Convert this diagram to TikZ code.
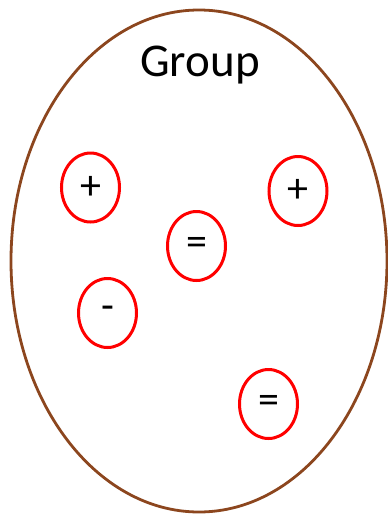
\documentclass[tikz,border=0pt]{standalone}
\usepackage{fontspec}
\setmainfont{Carlito}
\usetikzlibrary{shapes.geometric}
\definecolor{grpbrown}{RGB}{140,70,30}
\begin{document}
\begin{tikzpicture}[x=1pt,y=-1pt,
  member/.style={draw=red,line width=3pt,ellipse,minimum width=58pt,minimum height=69pt,inner sep=0pt,font=\fontsize{42}{42}\selectfont},
  group/.style={draw=grpbrown,line width=2.8pt}]
\useasboundingbox (0,0) rectangle (388,515);
\draw[group] (199,261) ellipse [x radius=188, y radius=251];
\node[anchor=base,font=\fontsize{47}{47}\selectfont] (title) at (200,76) {Group};
\node[member] (p1) at (90.5,187.5) {+};
\node[member] (p2) at (298,191) {+};
\node[member] (e1) at (196.5,246) {=};
\node[member] (m1) at (107.5,313) {-};
\node[member] (e2) at (268.5,404) {=};
\end{tikzpicture}
\end{document}
